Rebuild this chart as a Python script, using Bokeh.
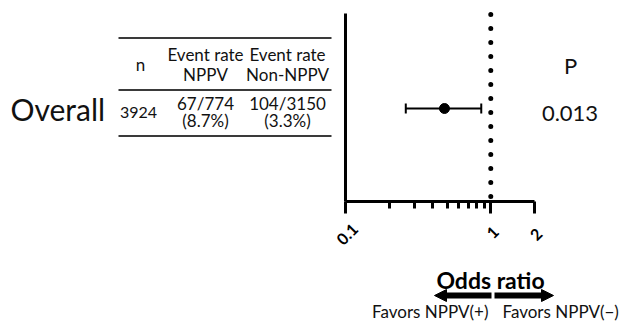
import math
from bokeh.plotting import figure
from bokeh.models import (Range1d, LinearScale, LogAxis, LinearAxis, FixedTicker,
                          CustomJSTickFormatter, ColumnDataSource, Whisker, TeeHead,
                          Arrow, NormalHead, Grid)
from bokeh.core.properties import value
from bokeh.embed import file_html
from bokeh.resources import INLINE

# ---------------- data ----------------
groups = ["Overall"]
n_total = ["3924"]
events_nppv = ["67/774"]
pct_nppv = ["(8.7%)"]
events_ctrl = ["104/3150"]
pct_ctrl = ["(3.3%)"]
odds_ratio = [0.48]
ci_lower = [0.26]
ci_upper = [0.86]
p_values = ["0.013"]
header_n = "n"
header_top = ["Event rate", "Event rate"]
header_bottom = ["NPPV", "Non-NPPV"]
p_header = "P"
major_ticks = [0.1, 1, 2]
tick_labels = ["0.1", "1", "2"]
minor_ticks = [0.2, 0.3, 0.4, 0.5, 0.6, 0.7, 0.8, 0.9]
null_value = [1]
x_title = "Odds ratio"
favors_left = "Favors NPPV(+)"
favors_right = "Favors NPPV(\u2212)"

# ---------------- layout (canvas px) ----------------
W, H = 622, 323
X01, X2 = 345, 534            # canvas x of OR=0.1 and OR=2
dec = (X2 - X01) / math.log10(20)
x_start = 10 ** (-1 - X01 / dec)
x_end = 10 ** (-1 + (W - X01) / dec)

FONT = value("Lato")
ROW_Y = 108
AXIS_Y = 201
TOP_Y = 14

p = figure(width=W, height=H, x_axis_type="log",
           x_range=Range1d(x_start, x_end), y_range=Range1d(H, 0),
           x_axis_location=None, y_axis_location=None,
           toolbar_location=None, output_backend="svg",
           min_border=0, outline_line_color=None,
           background_fill_color="white", border_fill_color="white")
for g in p.select(type=Grid):
    g.visible = False

p.extra_x_ranges = {"tbl": Range1d(0, W)}
p.extra_x_scales = {"tbl": LinearScale()}

# ---------------- table ----------------
COL_N, COL_A, COL_B = 140, 205, 287
rule_y = [37.5, 89.5, 135.5]
p.segment(x0=[118] * 3, x1=[331] * 3, y0=rule_y, y1=rule_y,
          line_color="#3a3a3a", line_width=2, x_range_name="tbl")

def txt(xs, ys, texts, size, align="center", bold=False, color="#111111", rng="tbl", angle=0):
    p.text(x=xs, y=ys, text=texts, text_font=FONT, text_font_size=value(size),
           text_align=align, text_baseline="middle", text_color=color, angle=angle,
           text_font_style="bold" if bold else "normal", x_range_name=rng)

# headers
txt([COL_N], [64], [header_n], "17px")
txt([COL_A, COL_B], [54, 54], header_top, "17px")
txt([COL_A, COL_B], [74, 74], header_bottom, "17px")
# row
txt([10], [ROW_Y], groups, "30px", align="left")
txt([COL_N - 2], [112], n_total, "16px")
txt([COL_A, COL_B], [103, 103], [events_nppv[0], events_ctrl[0]], "17px")
txt([COL_A, COL_B], [120, 120], [pct_nppv[0], pct_ctrl[0]], "17px")
# P column
txt([570], [64.5], [p_header], "22px")
txt([569.5], [112.5], p_values, "22px")

# ---------------- forest plot ----------------
p.segment(x0=null_value, x1=null_value, y0=[TOP_Y], y1=[AXIS_Y - 1],
          line_color="black", line_width=5, line_dash="0 14", line_cap="round")

src = ColumnDataSource(dict(y=[ROW_Y] * len(odds_ratio), orr=odds_ratio,
                            lo=ci_lower, hi=ci_upper))
p.add_layout(Whisker(source=src, base="y", lower="lo", upper="hi", dimension="width",
                     line_color="black", line_width=2,
                     lower_head=TeeHead(size=10, line_width=2, line_color="black"),
                     upper_head=TeeHead(size=10, line_width=2, line_color="black")))
p.scatter(x="orr", y="y", source=src, size=10, color="black")

xaxis = LogAxis(fixed_location=AXIS_Y, bounds=(major_ticks[0], major_ticks[-1]),
                ticker=FixedTicker(ticks=major_ticks, minor_ticks=minor_ticks),
                formatter=CustomJSTickFormatter(code="return ''"))
xaxis.axis_line_width = 3
xaxis.axis_line_color = "black"
xaxis.major_tick_line_width = 3
xaxis.major_tick_in = 0
xaxis.major_tick_out = 12
xaxis.minor_tick_line_width = 3
xaxis.minor_tick_in = 0
xaxis.minor_tick_out = 7
xaxis.major_label_text_font_size = "0px"
p.add_layout(xaxis, "below")

# rotated tick labels, centred under their ticks
p.text(x=major_ticks, y=[234, 232, 234], text=tick_labels, text_font=FONT,
       text_font_size=value("16px"), text_font_style="bold", text_color="black",
       text_align="center", text_baseline="middle", angle=math.pi / 4,
       x_offset=2)

yaxis = LinearAxis(fixed_location=major_ticks[0], bounds=(TOP_Y - 1, AXIS_Y),
                   ticker=FixedTicker(ticks=[]))
yaxis.axis_line_width = 3
yaxis.axis_line_color = "black"
yaxis.major_tick_line_color = None
yaxis.minor_tick_line_color = None
yaxis.major_label_text_font_size = "0px"
p.add_layout(yaxis, "left")

# ---------------- bottom annotation ----------------
txt([490], [279], [x_title], "23px", bold=True, color="black")
p.add_layout(Arrow(x_start=491, y_start=295, x_end=434, y_end=295, x_range_name="tbl",
                   line_width=6, line_color="black",
                   end=NormalHead(size=12, fill_color="black", line_color="black", line_width=1)))
p.add_layout(Arrow(x_start=494, y_start=295, x_end=553, y_end=295, x_range_name="tbl",
                   line_width=6, line_color="black",
                   end=NormalHead(size=12, fill_color="black", line_color="black", line_width=1)))
txt([488], [311], [favors_left], "17px", align="right")
txt([502], [311], [favors_right], "17px", align="left")

open("out.html", "w").write(file_html(p, INLINE))
